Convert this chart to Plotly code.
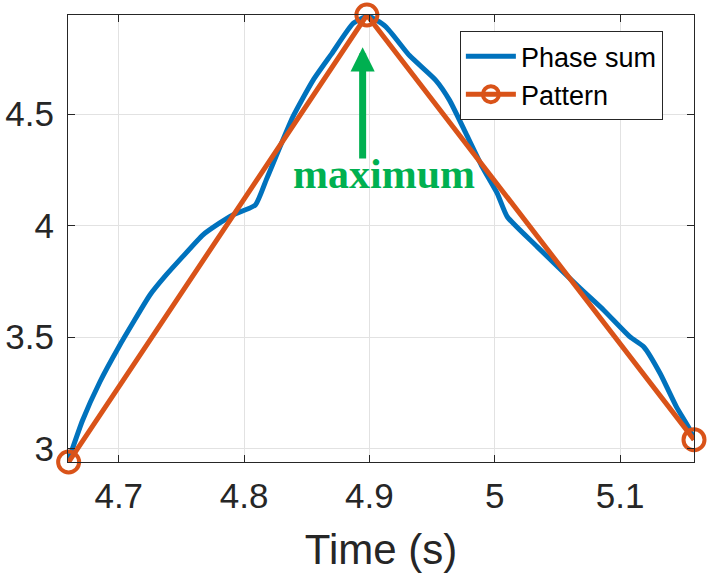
#!/usr/bin/env python3
# -*- coding: utf-8 -*-
"""
Phase sum vs. pattern around the maximum
"""

import plotly.graph_objects as go

# measured phase sum (blue)
phase_t = [4.660, 4.671, 4.685, 4.700, 4.711, 4.725, 4.738, 4.751, 4.767, 4.780,
           4.791, 4.809, 4.818, 4.839, 4.855, 4.870, 4.887, 4.899, 4.913, 4.932,
           4.953, 4.964, 4.977, 4.990, 5.002, 5.010, 5.034, 5.068, 5.087, 5.108,
           5.119, 5.132, 5.145, 5.156, 5.159]
phase_sum = [2.950, 3.125, 3.300, 3.456, 3.561, 3.690, 3.780, 3.861, 3.958, 4.010,
             4.048, 4.093, 4.210, 4.489, 4.652, 4.772, 4.907, 4.940, 4.893, 4.763,
             4.652, 4.562, 4.414, 4.264, 4.145, 4.040, 3.905, 3.720, 3.621, 3.501,
             3.456, 3.337, 3.187, 3.082, 3.040]

# pattern (orange, three points)
pattern_t = [4.660, 4.898, 5.159]
pattern_y = [2.940, 4.945, 3.040]

x_ticks = [4.7, 4.8, 4.9, 5.0, 5.1]
x_labels = ["4.7", "4.8", "4.9", "5", "5.1"]
y_ticks = [3.0, 3.5, 4.0, 4.5]
y_labels = ["3", "3.5", "4", "4.5"]

# annotation: arrow + text
arrow_x, arrow_tip, arrow_tail = 4.8946, 4.80, 4.295
label_x, label_y = 4.912, 4.232

BLUE = "#0072BD"
ORANGE = "#D95319"
GREEN = "#00B050"
AXC = "#262626"

fig = go.Figure()
fig.add_trace(go.Scatter(
    x=phase_t, y=phase_sum, name="Phase sum", mode="lines",
    line=dict(color=BLUE, width=5, shape="spline", smoothing=0.5),
    cliponaxis=False))
fig.add_trace(go.Scatter(
    x=pattern_t, y=pattern_y, name="Pattern", mode="lines+markers",
    line=dict(color=ORANGE, width=5),
    marker=dict(symbol="circle-open", size=21, color=ORANGE,
                line=dict(width=4, color=ORANGE)),
    cliponaxis=False))

# green arrow pointing at the peak
fig.add_annotation(
    x=arrow_x, y=arrow_tip, ax=arrow_x, ay=arrow_tail,
    xref="x", yref="y", axref="x", ayref="y",
    text="", showarrow=True, arrowhead=2, arrowsize=0.69,
    arrowwidth=7, arrowcolor=GREEN)
fig.add_annotation(
    x=label_x, y=label_y, xref="x", yref="y", text="<b>maximum</b>",
    showarrow=False, font=dict(family="Liberation Serif", size=42, color=GREEN))

axis_common = dict(
    showline=True, linecolor=AXC, linewidth=1, mirror="ticks",
    ticks="inside", ticklen=7, tickcolor=AXC, automargin=False,
    showgrid=True, gridcolor="#e2e2e2", gridwidth=1, zeroline=False,
    tickfont=dict(family="Liberation Sans", size=35, color=AXC))

fig.update_xaxes(range=[4.6595, 5.159], tickvals=x_ticks, ticktext=x_labels,
                 ticklabelstandoff=3,
                 title=dict(text="Time (s)", standoff=20,
                            font=dict(family="Liberation Sans", size=42, color=AXC)),
                 **axis_common)
fig.update_yaxes(range=[2.940, 4.945], tickvals=y_ticks, ticktext=y_labels,
                 ticklabelstandoff=6, **axis_common)

fig.update_layout(
    width=710, height=573,
    margin=dict(l=68, r=16, t=15, b=111),
    paper_bgcolor="white", plot_bgcolor="white",
    showlegend=True,
    legend=dict(x=0.626, y=0.964, xanchor="left", yanchor="top",
                bgcolor="white", bordercolor=AXC, borderwidth=1,
                font=dict(family="Liberation Sans", size=27, color="black"),
                tracegroupgap=0, itemwidth=50),
)

# no body margin so the figure sits at the window's corner
fig.write_html("out.html", config={"displayModeBar": False},
               post_script="document.body.style.margin='0';")
